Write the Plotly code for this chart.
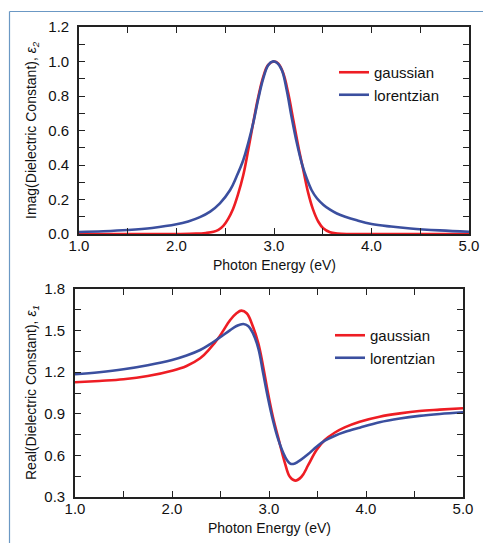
import plotly.graph_objects as go

# ---- data ----
# Imag part (top)
gauss_imag_E = [1.0, 1.5, 2.0, 2.2, 2.3, 2.38, 2.43, 2.48, 2.53, 2.58, 2.63, 2.685, 2.735, 2.79, 2.84,
                2.89, 2.94, 3.0, 3.045, 3.095, 3.145, 3.2, 3.25, 3.3, 3.35, 3.4, 3.455, 3.505, 3.575,
                3.65, 3.75, 4.0, 4.5, 5.0]
gauss_imag = [0, 0, 0, 0.002, 0.006, 0.013, 0.024, 0.047, 0.088, 0.145, 0.228, 0.342, 0.485, 0.655, 0.798,
              0.912, 0.980, 1.0, 0.988, 0.932, 0.818, 0.655, 0.506, 0.373, 0.240, 0.143, 0.071, 0.033, 0.010,
              0.003, 0.0, 0.0, 0.0, 0.0]

lor_imag_E = [1.0, 1.25, 1.5, 1.75, 2.0, 2.12, 2.24, 2.345, 2.445, 2.55, 2.615, 2.685, 2.735, 2.79, 2.84,
              2.89, 2.94, 2.985, 3.03, 3.08, 3.13, 3.18, 3.235, 3.285, 3.335, 3.385, 3.44, 3.505, 3.575,
              3.645, 3.73, 3.85, 4.0, 4.2, 4.4, 4.7, 5.0]
lor_imag = [0.012, 0.016, 0.023, 0.035, 0.056, 0.073, 0.098, 0.130, 0.178, 0.255, 0.332, 0.429, 0.526, 0.651,
            0.787, 0.902, 0.978, 1.0, 0.993, 0.951, 0.835, 0.680, 0.526, 0.410, 0.323, 0.255, 0.207, 0.170,
            0.141, 0.119, 0.100, 0.079, 0.058, 0.043, 0.032, 0.021, 0.013]

# Real part (bottom)
gauss_real_E = [1.0, 1.25, 1.5, 1.75, 2.0, 2.15, 2.29, 2.39, 2.49, 2.6, 2.665, 2.715, 2.77, 2.835, 2.89,
                2.94, 2.99, 3.04, 3.095, 3.165, 3.215, 3.27, 3.335, 3.405, 3.49, 3.575, 3.68, 3.78,
                3.935, 4.14, 4.35, 4.55, 4.76, 5.0]
gauss_real = [1.127, 1.137, 1.149, 1.172, 1.210, 1.245, 1.300, 1.370, 1.458, 1.576, 1.625, 1.644, 1.625,
              1.528, 1.408, 1.240, 1.048, 0.879, 0.728, 0.543, 0.446, 0.418, 0.446, 0.531, 0.639, 0.711,
              0.765, 0.802, 0.843, 0.879, 0.903, 0.920, 0.930, 0.940]

lor_real_E = [1.0, 1.25, 1.5, 1.75, 2.0, 2.15, 2.29, 2.39, 2.49, 2.6, 2.665, 2.735, 2.785, 2.835, 2.89,
              2.94, 2.99, 3.04, 3.095, 3.165, 3.215, 3.25, 3.3, 3.405, 3.49, 3.575, 3.68, 3.78, 3.935,
              4.14, 4.35, 4.55, 4.76, 5.0]
lor_real = [1.185, 1.200, 1.221, 1.250, 1.288, 1.320, 1.360, 1.401, 1.449, 1.504, 1.533, 1.548, 1.533,
            1.480, 1.372, 1.192, 1.012, 0.855, 0.715, 0.591, 0.543, 0.538, 0.555, 0.610, 0.663, 0.706,
            0.742, 0.768, 0.800, 0.839, 0.866, 0.885, 0.899, 0.911]

series_names = ["gaussian", "lorentzian"]
x_title = "Photon Energy (eV)"
y_title_top = "Imag(Dielectric Constant), <i>ε</i><sub><i>2</i></sub>"
y_title_bot = "Real(Dielectric Constant), <i>ε</i><sub><i>1</i></sub>"

RED = "#ee1d24"
BLUE = "#3b4f9f"
W, H = 483, 543
FONT = "Liberation Sans, Arial, sans-serif"

fig = go.Figure()
line_kw = dict(shape="spline", smoothing=1.1, width=2.6)
fig.add_trace(go.Scatter(x=gauss_imag_E, y=gauss_imag, mode="lines", name=series_names[0],
                         line=dict(color=RED, **line_kw), xaxis="x", yaxis="y", legend="legend"))
fig.add_trace(go.Scatter(x=lor_imag_E, y=lor_imag, mode="lines", name=series_names[1],
                         line=dict(color=BLUE, **line_kw), xaxis="x", yaxis="y", legend="legend"))
fig.add_trace(go.Scatter(x=gauss_real_E, y=gauss_real, mode="lines", name=series_names[0],
                         line=dict(color=RED, **line_kw), xaxis="x2", yaxis="y2", legend="legend2"))
fig.add_trace(go.Scatter(x=lor_real_E, y=lor_real, mode="lines", name=series_names[1],
                         line=dict(color=BLUE, **line_kw), xaxis="x2", yaxis="y2", legend="legend2"))


def px_x(p):
    return p / W


def px_y(p):
    return 1 - p / H


tickfont = dict(family=FONT, size=15, color="#111")
minor_kw = dict(ticks="inside", ticklen=6, tickwidth=1.4, tickcolor="#222")
ax_common = dict(showgrid=False, zeroline=False, showline=True, linecolor="#222", linewidth=1.6,
                 mirror="allticks", ticks="inside", ticklen=6, tickwidth=1.4, tickcolor="#222",
                 tickfont=tickfont, automargin=False, tickformat=".1f")

fig.update_layout(
    width=W, height=H, margin=dict(l=0, r=0, t=0, b=0),
    paper_bgcolor="white", plot_bgcolor="white",
    font=dict(family=FONT, size=14, color="#111"),
    xaxis=dict(domain=[px_x(79), px_x(469)], range=[1, 5], tick0=1, dtick=1, anchor="y",
               minor=dict(dtick=0.5, **minor_kw), ticklabelstandoff=-3, **ax_common),
    yaxis=dict(domain=[px_y(234), px_y(27)], range=[0, 1.2], tick0=0, dtick=0.2, anchor="x",
               minor=dict(dtick=0.1, **minor_kw), ticklabelstandoff=5, **ax_common),
    xaxis2=dict(domain=[px_x(75), px_x(463)], range=[1, 5], tick0=1, dtick=1, anchor="y2",
                minor=dict(dtick=0.5, **minor_kw), ticklabelstandoff=-3, **ax_common),
    yaxis2=dict(domain=[px_y(497), px_y(289)], range=[0.3, 1.8], tick0=0.3, dtick=0.3, anchor="x2",
                minor=dict(dtick=0.15, **minor_kw), ticklabelstandoff=5, **ax_common),
    legend=dict(x=px_x(334), y=px_y(56), xanchor="left", yanchor="top", bgcolor="rgba(0,0,0,0)",
                font=dict(family=FONT, size=15, color="#111"), tracegroupgap=0),
    legend2=dict(x=px_x(330), y=px_y(319), xanchor="left", yanchor="top", bgcolor="rgba(0,0,0,0)",
                 font=dict(family=FONT, size=15, color="#111"), tracegroupgap=0),
    showlegend=True,
)

ann_font = dict(family=FONT, size=14, color="#111")
fig.add_annotation(text=x_title, xref="paper", yref="paper", x=px_x(274), y=px_y(265),
                   showarrow=False, font=ann_font, xanchor="center", yanchor="middle")
fig.add_annotation(text=x_title, xref="paper", yref="paper", x=px_x(269), y=px_y(528),
                   showarrow=False, font=ann_font, xanchor="center", yanchor="middle")
fig.add_annotation(text=y_title_top, xref="paper", yref="paper", x=px_x(32), y=px_y(130),
                   showarrow=False, font=ann_font, textangle=-90, xanchor="center", yanchor="middle")
fig.add_annotation(text=y_title_bot, xref="paper", yref="paper", x=px_x(32), y=px_y(393),
                   showarrow=False, font=ann_font, textangle=-90, xanchor="center", yanchor="middle")

# outer decorative frame (top and left edges visible)
fig.add_shape(type="line", xref="paper", yref="paper", x0=px_x(9.5), x1=1.0, y0=px_y(11.5), y1=px_y(11.5),
              line=dict(color="#6b98c4", width=1.2), layer="above")
fig.add_shape(type="line", xref="paper", yref="paper", x0=px_x(9.5), x1=px_x(9.5), y0=0.0, y1=px_y(11.5),
              line=dict(color="#6b98c4", width=1.2), layer="above")

fig.write_html("out.html", config={"displayModeBar": False},
               post_script="document.body.style.margin='0';document.body.style.overflow='hidden';")
